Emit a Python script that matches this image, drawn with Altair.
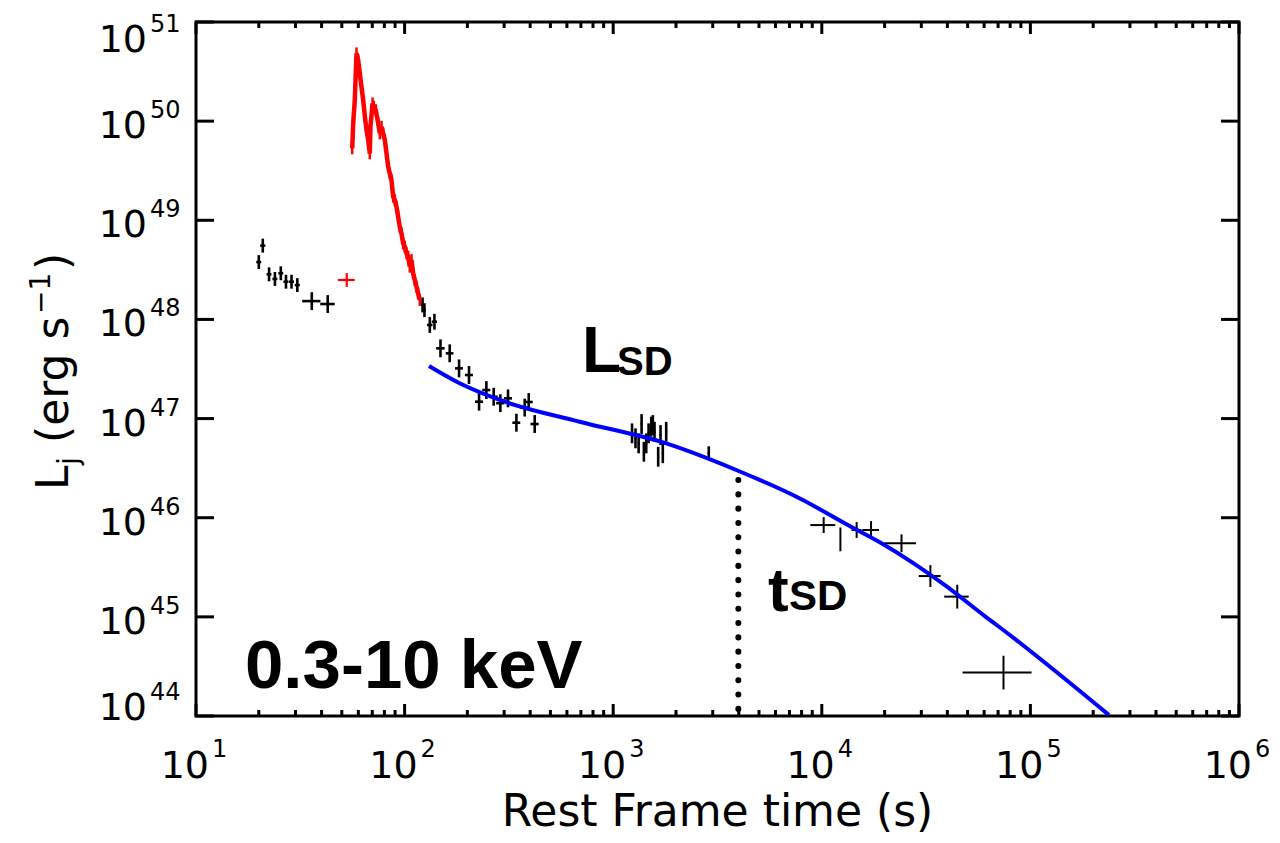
import altair as alt
import pandas as pd

W, H = 1043, 694

# ---------------- data ----------------
# early black points (t [s], L [erg/s], t error [s], L error [dex])
t_early = [20.0, 20.9, 22.4, 23.9, 25.5, 27.0, 28.7, 30.6, 35.9, 42.8]
L_early = [3.79e48, 5.55e48, 2.85e48, 2.56e48, 2.92e48, 2.40e48, 2.40e48, 2.22e48, 1.53e48, 1.43e48]
terr_early = [0.55, 0.6, 0.6, 0.65, 0.7, 0.75, 0.8, 0.85, 3.6, 3.4]
Lerr_early = [0.07, 0.07, 0.07, 0.07, 0.07, 0.07, 0.07, 0.07, 0.09, 0.09]

# single red point
t_red = [52.8]
L_red = [2.50e48]
terr_red = [4.9]
Lerr_red = [0.07]

# red flare
t_flare = [56.1, 56.7, 57.7, 58.8, 59.9, 61.0, 62.1, 63.3, 64.5, 65.7, 66.9, 68.1, 68.6, 70.2,
           71.2, 72.8, 74.7, 76.1, 77.5, 78.9, 80.4, 81.9, 83.4, 84.9, 86.5, 88.1, 89.8, 91.4,
           93.1, 94.8, 96.6, 98.4, 100.2, 102.1, 104.0, 105.9, 107.9, 109.9, 111.9, 114.0, 116.1, 118.3]
L_flare = [5.32e49, 9.51e49, 1.63e50, 4.83e50, 4.14e50, 3.03e50, 2.23e50, 1.63e50, 1.11e50, 8.15e49,
           6.46e49, 4.73e49, 8.79e49, 1.51e50, 1.40e50, 1.29e50, 9.51e49, 7.53e49, 8.79e49, 7.53e49,
           6.46e49, 4.73e49, 3.48e49, 2.98e49, 2.55e49, 1.73e49, 1.60e49, 1.37e49, 1.09e49, 8.63e48,
           7.38e48, 5.85e48, 5.42e48, 4.65e48, 4.30e48, 3.40e48, 3.97e48, 2.92e48, 2.50e48, 2.14e48,
           1.83e48, 1.57e48]

# black points after the flare
t_mid = [121.9, 124.5, 132.1, 139.0, 148.6, 164.5, 182.4, 203.6, 227.5, 246.6, 267.3, 287.8,
         313.2, 343.5, 376.5, 393.6, 420.4]
L_mid = [1.40e48, 1.24e48, 8.79e47, 9.48e47, 5.11e47, 4.55e47, 3.21e47, 2.75e47, 1.48e47, 1.94e47,
         1.66e47, 1.43e47, 1.60e47, 9.08e46, 1.29e47, 1.47e47, 8.81e46]
terr_mid = [2, 2, 4, 4, 7, 7, 8, 9, 10, 11, 12, 13, 14, 15, 17, 18, 19]
Lerr_mid = [0.075, 0.07, 0.08, 0.08, 0.09, 0.09, 0.09, 0.09, 0.09, 0.09, 0.09, 0.09, 0.09, 0.09,
            0.09, 0.09, 0.09]

# cluster near 1.5e3 s
t_cl = [1231, 1279, 1324, 1368, 1403, 1440, 1478, 1522, 1549, 1578, 1643, 1686, 1729, 1795, 2872]
L_cl = [7.10e46, 6.32e46, 5.62e46, 8.81e46, 4.63e46, 5.62e46, 7.10e46, 8.28e46, 8.61e46, 7.36e46,
        4.12e46, 6.82e46, 4.47e46, 7.36e46, 4.47e46]
terr_cl = [14, 14, 15, 15, 15, 16, 16, 17, 17, 17, 18, 18, 19, 20, 40]
Lerr_cl = [0.10, 0.10, 0.10, 0.10, 0.10, 0.10, 0.10, 0.10, 0.10, 0.10, 0.10, 0.10, 0.10, 0.10, 0.07]

# late points
t_late = [10210, 12280, 14690, 17220, 24100, 33150, 44600, 74300]
L_late = [8.43e45, 6.05e45, 7.52e45, 7.52e45, 5.52e45, 2.58e45, 1.60e45, 2.74e44]
terr_late = [1400, 0, 800, 1590, 4200, 4000, 6000, 27000]
Lerr_late = [0.08, 0.12, 0.08, 0.09, 0.09, 0.11, 0.12, 0.17]

# spin-down fit (blue)
t_fit = [130.9, 183.6, 285.8, 690, 1795, 3890, 8110, 13060, 18880, 27230, 39360, 61240, 70960, 238200]
L_fit = [3.39e47, 2.27e47, 1.54e47, 9.29e46, 5.62e46, 3.03e46, 1.51e46, 8.64e45, 5.69e45, 3.53e45,
         2.05e45, 9.96e44, 7.90e44, 1.02e44]

# t_SD marker
t_sd = [3980]
L_sd_top = [2.4e46]
L_bottom = [1e44]

# axis ticks / labels
x_major = [10, 100, 1000, 10000, 100000, 1000000]
x_exp = ["1", "2", "3", "4", "5", "6"]
x_minor = [20, 30, 40, 50, 60, 70, 80, 90,
           200, 300, 400, 500, 600, 700, 800, 900,
           2000, 3000, 4000, 5000, 6000, 7000, 8000, 9000,
           20000, 30000, 40000, 50000, 60000, 70000, 80000, 90000,
           200000, 300000, 400000, 500000, 600000, 700000, 800000, 900000]
y_major = [1e44, 1e45, 1e46, 1e47, 1e48, 1e49, 1e50, 1e51]
y_exp = ["44", "45", "46", "47", "48", "49", "50", "51"]

# ---------------- build tables ----------------
def err_table(ts, Ls, terrs, Lerrs):
    rows = []
    for t, L, te, le in zip(ts, Ls, terrs, Lerrs):
        rows.append(dict(t=t, L=L, tlo=t - te, thi=t + te, Llo=L / 10 ** le, Lhi=L * 10 ** le))
    return pd.DataFrame(rows)

df_thick = pd.concat([err_table(t_early, L_early, terr_early, Lerr_early),
                      err_table(t_mid, L_mid, terr_mid, Lerr_mid),
                      err_table(t_cl, L_cl, terr_cl, Lerr_cl)], ignore_index=True)
df_late = err_table(t_late, L_late, terr_late, Lerr_late)
df_red = err_table(t_red, L_red, terr_red, Lerr_red)
df_flare = pd.DataFrame(dict(t=t_flare, L=L_flare))
df_flare["Llo"] = df_flare["L"] / 10 ** 0.06
df_flare["Lhi"] = df_flare["L"] * 10 ** 0.06
df_fit = pd.DataFrame(dict(t=t_fit, L=L_fit))
df_sd = pd.DataFrame(dict(t=t_sd, top=L_sd_top, bottom=L_bottom))

df_xmaj = pd.DataFrame(dict(v=x_major, base=["10"] * len(x_major), exp=x_exp))
df_xmin = pd.DataFrame(dict(v=x_minor))
df_ymaj = pd.DataFrame(dict(v=y_major, base=["10"] * len(y_major), exp=y_exp))

xs = alt.Scale(type="log", domain=[10, 1e6], nice=False)
ys = alt.Scale(type="log", domain=[1e44, 1e51], nice=False)

def X(f):
    return alt.X(f, type="quantitative", scale=xs, axis=None)

def Y(f):
    return alt.Y(f, type="quantitative", scale=ys, axis=None)

FONT = "DejaVu Sans"
BOLD = "Liberation Sans"

layers = []

# error bars
def crosses(df, color, sw):
    v = alt.Chart(df).mark_rule(color=color, strokeWidth=sw).encode(x=X("t"), y=Y("Llo"), y2="Lhi")
    h = alt.Chart(df).mark_rule(color=color, strokeWidth=sw).encode(x=X("tlo"), x2="thi", y=Y("L"))
    return [v, h]

layers += crosses(df_thick, "black", 2.6)
layers += crosses(df_late, "black", 2)
layers += crosses(df_red, "red", 2.2)

# flare
layers.append(alt.Chart(df_flare).mark_line(color="red", strokeWidth=4.5).encode(x=X("t"), y=Y("L")))
layers.append(alt.Chart(df_flare).mark_rule(color="red", strokeWidth=2.5).encode(x=X("t"), y=Y("Llo"), y2="Lhi"))

# fit
layers.append(alt.Chart(df_fit).mark_line(color="#0000ff", strokeWidth=4, interpolate="monotone", clip=True)
              .encode(x=X("t"), y=Y("L")))

# t_SD dotted line
layers.append(alt.Chart(df_sd).mark_rule(color="black", strokeWidth=6, strokeCap="round",
                                         strokeDash=[0.1, 14.2])
              .encode(x=X("t"), y=Y("top"), y2="bottom"))

# ticks (inward)
layers.append(alt.Chart(df_xmaj).mark_rule(color="black", strokeWidth=3)
              .encode(x=X("v"), y=alt.value(H), y2=alt.value(H - 12)))
layers.append(alt.Chart(df_xmaj).mark_rule(color="black", strokeWidth=3)
              .encode(x=X("v"), y=alt.value(0), y2=alt.value(12)))
layers.append(alt.Chart(df_xmin).mark_rule(color="black", strokeWidth=3)
              .encode(x=X("v"), y=alt.value(H), y2=alt.value(H - 6)))
layers.append(alt.Chart(df_xmin).mark_rule(color="black", strokeWidth=3)
              .encode(x=X("v"), y=alt.value(0), y2=alt.value(6)))
layers.append(alt.Chart(df_ymaj).mark_rule(color="black", strokeWidth=3)
              .encode(y=Y("v"), x=alt.value(0), x2=alt.value(18)))
layers.append(alt.Chart(df_ymaj).mark_rule(color="black", strokeWidth=3)
              .encode(y=Y("v"), x=alt.value(W - 18), x2=alt.value(W)))

# x tick labels
layers.append(alt.Chart(df_xmaj).mark_text(font=FONT, fontSize=38, align="right", baseline="alphabetic",
                                           dx=13, color="black")
              .encode(x=X("v"), y=alt.value(H + 62), text="base"))
layers.append(alt.Chart(df_xmaj).mark_text(font=FONT, fontSize=24, align="left", baseline="alphabetic",
                                           dx=16, color="black")
              .encode(x=X("v"), y=alt.value(H + 41), text="exp"))

# y tick labels (outermost labels pulled inside, as in the original)
def ylabels(df, shift):
    base = alt.Chart(df).mark_text(font=FONT, fontSize=38, align="right", baseline="alphabetic",
                                   dy=17 + shift, color="black").encode(y=Y("v"), x=alt.value(-49), text="base")
    exp = alt.Chart(df).mark_text(font=FONT, fontSize=24, align="left", baseline="alphabetic",
                                  dy=-3 + shift, color="black").encode(y=Y("v"), x=alt.value(-46), text="exp")
    return [base, exp]

layers += ylabels(df_ymaj.iloc[1:-1], 0)
layers += ylabels(df_ymaj.iloc[-1:], 13)
layers += ylabels(df_ymaj.iloc[:1], -13)

# axis titles
def txt(label, x, y, size, font=FONT, weight="normal", angle=0, align="left"):
    return alt.Chart(alt.Data(values=[{"label": label}])).mark_text(
        font=font, fontSize=size, fontWeight=weight, angle=angle, align=align,
        baseline="alphabetic", color="black").encode(x=alt.value(x), y=alt.value(y), text="label:N")

layers.append(txt("Rest Frame time (s)", W / 2, H + 110, 44, align="center"))
layers.append(txt("L", -128, 468, 44, angle=270))
layers.append(txt("j", -118, 443, 28, angle=270))
layers.append(txt("(erg s", -128, 421, 44, angle=270))
layers.append(txt("\u22121", -146, 292, 28, angle=270))
layers.append(txt(")", -128, 248, 44, angle=270))

# annotations
layers.append(txt("0.3-10 keV", 49, 666, 69, font=BOLD, weight="bold"))
layers.append(txt("L", 386, 350, 64, font=BOLD, weight="bold"))
layers.append(txt("SD", 421, 353, 40, font=BOLD, weight="bold"))
layers.append(txt("t", 572, 589, 62, font=BOLD, weight="bold"))
layers.append(txt("SD", 593, 588, 42, font=BOLD, weight="bold"))

chart = alt.layer(*layers).properties(
    width=W, height=H,
    autosize=alt.AutoSizeParams(type="none"),
    padding={"left": 188, "top": 14, "right": 30, "bottom": 125},
    background="white",
).configure_view(stroke="black", strokeWidth=3)

chart.save("out.html", embed_options={"renderer": "svg", "actions": False})
